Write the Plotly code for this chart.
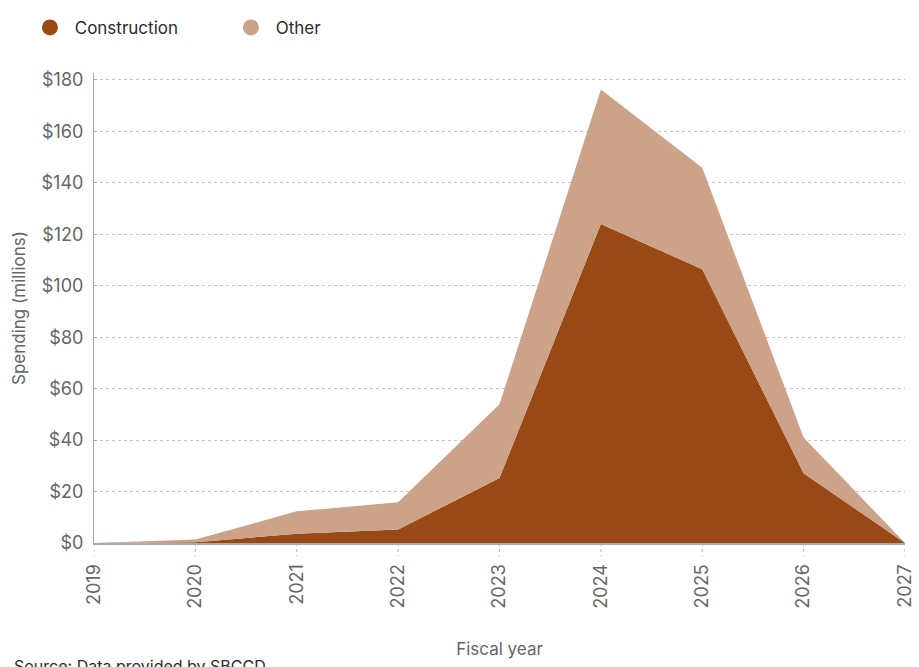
import plotly.graph_objects as go

# Fiscal years and spending (millions of dollars)
years = [2019, 2020, 2021, 2022, 2023, 2024, 2025, 2026, 2027]
construction = [0, 0.3, 3.6, 5.2, 25.3, 124.0, 106.4, 27.1, 0]
other = [0, 1.1, 8.7, 10.6, 28.6, 52.3, 39.5, 13.9, 0]
y_ticks = [0, 20, 40, 60, 80, 100, 120, 140, 160, 180]
y_tick_text = ["$" + str(v) for v in y_ticks]

CONSTRUCTION_COLOR = "#994915"
OTHER_COLOR = "#CCA289"
FONT = "Inter, 'Open Sans', sans-serif"

fig = go.Figure()

# Stacked areas
fig.add_trace(go.Scatter(
    x=years, y=construction, name="Construction", stackgroup="spend",
    mode="lines", line=dict(width=0), fillcolor=CONSTRUCTION_COLOR,
    showlegend=False, hoverinfo="x+y",
))
fig.add_trace(go.Scatter(
    x=years, y=other, name="Other", stackgroup="spend",
    mode="lines", line=dict(width=0), fillcolor=OTHER_COLOR,
    showlegend=False, hoverinfo="x+y",
))

# Legend entries drawn as round swatches
for name, color in [("Construction", CONSTRUCTION_COLOR), ("Other", OTHER_COLOR)]:
    fig.add_trace(go.Scatter(
        x=[None], y=[None], mode="markers", name=" " + name,
        marker=dict(symbol="circle", size=22, color=color),
    ))

# Dotted tick marks under the x axis
for yr in years:
    fig.add_shape(type="line", xref="x", yref="paper", x0=yr, x1=yr,
                  y0=0, y1=-0.028, line=dict(color="#b5b5b5", width=1, dash="dot"))

fig.update_layout(
    width=919, height=667,
    margin=dict(l=94, r=14, t=73, b=124, autoexpand=False),
    paper_bgcolor="white", plot_bgcolor="white",
    font=dict(family=FONT, color="#666666"),
    showlegend=True,
    legend=dict(
        orientation="h", traceorder="normal",
        x=-0.079, xanchor="left", y=1.096, yanchor="middle",
        font=dict(size=17, color="#2b2b2b", family=FONT),
        entrywidth=156, entrywidthmode="pixels", itemsizing="trace",
        bgcolor="rgba(0,0,0,0)",
    ),
    xaxis=dict(
        range=[2019, 2027], tickmode="array", tickvals=years,
        ticktext=[str(y) for y in years], tickangle=-90,
        tickfont=dict(size=18, color="#666666"),
        showgrid=False, zeroline=False,
        showline=True, linecolor="#aaaaaa", linewidth=2,
        ticks="", ticklabelstandoff=12,
        title=dict(text="Fiscal year", font=dict(size=17, color="#666666"), standoff=35),
    ),
    yaxis=dict(
        range=[0, 182.7], tickmode="array", tickvals=y_ticks, ticktext=y_tick_text,
        tickfont=dict(size=18, color="#666666"),
        showgrid=True, gridcolor="#c4c4c4", griddash="dot", gridwidth=1,
        zeroline=False, showline=True, linecolor="#aaaaaa", linewidth=1,
        ticks="inside", ticklen=3, tickcolor="#aaaaaa", ticklabelstandoff=6,
        title=dict(text="Spending (millions)", font=dict(size=17, color="#666666"), standoff=11),
    ),
)

fig.add_annotation(
    text="Source: Data provided by SBCCD", xref="paper", yref="paper",
    x=-0.101, y=-0.237, xanchor="left", yanchor="top", showarrow=False,
    font=dict(size=16, color="#2b2b2b", family=FONT),
)

fig.write_html("out.html")
